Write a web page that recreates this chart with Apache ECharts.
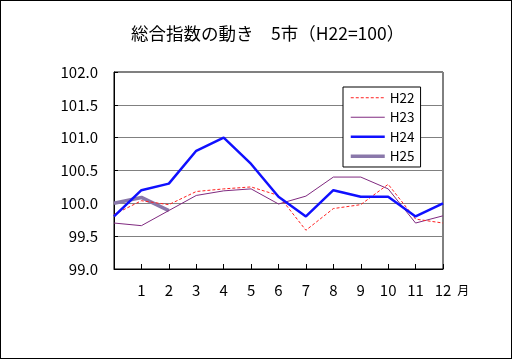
<!DOCTYPE html>
<html><head><meta charset="utf-8">
<script src="https://cdn.jsdelivr.net/npm/echarts@6/dist/echarts.min.js"></script>
<style>html,body{margin:0;padding:0;background:#fff}#c{width:512px;height:359px;box-sizing:border-box;border:1px solid #000;}</style>
</head><body><div id="c"></div>
<script>
const months = [0,1,2,3,4,5,6,7,8,9,10,11,12];
const seriesNames = ['H22','H23','H24','H25'];
const h22 = [99.83,100.04,99.98,100.18,100.22,100.25,100.12,99.59,99.92,99.98,100.29,99.76,99.70];
const h23 = [99.70,99.66,99.89,100.12,100.19,100.22,99.99,100.11,100.40,100.40,100.22,99.70,99.81];
const h24 = [99.8,100.2,100.3,100.8,101.0,100.6,100.1,99.8,100.2,100.1,100.1,99.8,100.0];
const h25 = [100.0,100.09,99.89];
const yTicks = [99.0,99.5,100.0,100.5,101.0,101.5,102.0];
const FONT = '"Noto Sans CJK JP", sans-serif';
const pair = arr => arr.map((v,i)=>[months[i],v]);
const styles = {
  H22:{color:'#ff2020',width:1,type:[3,2]},
  H23:{color:'#802a80',width:1,type:'solid'},
  H24:{color:'#1010ff',width:2.5,type:'solid'},
  H25:{color:'#8a78aa',width:3.5,type:'solid'}
};
const chart = echarts.init(document.getElementById('c'));
chart.setOption({
  animation:false,
  backgroundColor:'#fff',
  title:{text:'総合指数の動き　5市（H22=100）',left:125,top:19,
    textStyle:{fontFamily:FONT,fontSize:17.5,fontWeight:'normal',color:'#000'}},
  grid:{left:113,top:71,right:68,bottom:89,show:true,borderColor:'#000',borderWidth:1,backgroundColor:'transparent'},
  legend:{orient:'vertical',left:342,top:86,padding:[4,6,4,6],itemWidth:34,itemHeight:10,itemGap:6,
    borderColor:'#000',borderWidth:1,backgroundColor:'#fff',
    itemStyle:{opacity:0},
    textStyle:{fontFamily:FONT,fontSize:13.5,color:'#000'},
    data:seriesNames.map(n=>({name:n,lineStyle:{width:styles[n].width,color:styles[n].color,type:styles[n].type}}))},
  xAxis:{type:'value',min:0,max:12,interval:1,
    name:'月',nameLocation:'end',nameGap:14,
    nameTextStyle:{fontFamily:FONT,fontSize:12,color:'#000',verticalAlign:'top',padding:[15,0,0,0]},
    axisLine:{lineStyle:{color:'#000'}},
    axisTick:{inside:true,length:5,lineStyle:{color:'#000'}},
    axisLabel:{fontFamily:FONT,fontSize:15,color:'#000',margin:14,formatter:v=>v===0?'':String(v)},
    splitLine:{show:false}},
  yAxis:{type:'value',min:yTicks[0],max:yTicks[yTicks.length-1],interval:0.5,
    axisLine:{show:true,lineStyle:{color:'#000'}},
    axisTick:{show:true,inside:true,length:4,lineStyle:{color:'#000'}},
    axisLabel:{fontFamily:FONT,fontSize:15,color:'#000',margin:16,formatter:v=>v.toFixed(1)},
    splitLine:{show:true,lineStyle:{color:'#808080',width:1}}},
  series:[
    {name:'H22',type:'line',data:pair(h22),symbol:'none',lineStyle:styles.H22,itemStyle:{color:styles.H22.color},z:3},
    {name:'H23',type:'line',data:pair(h23),symbol:'none',lineStyle:styles.H23,itemStyle:{color:styles.H23.color},z:2},
    {name:'H24',type:'line',data:pair(h24),symbol:'none',lineStyle:styles.H24,itemStyle:{color:styles.H24.color},z:4},
    {name:'H25',type:'line',data:pair(h25),symbol:'none',lineStyle:styles.H25,itemStyle:{color:styles.H25.color},z:1}
  ]
});
</script></body></html>
